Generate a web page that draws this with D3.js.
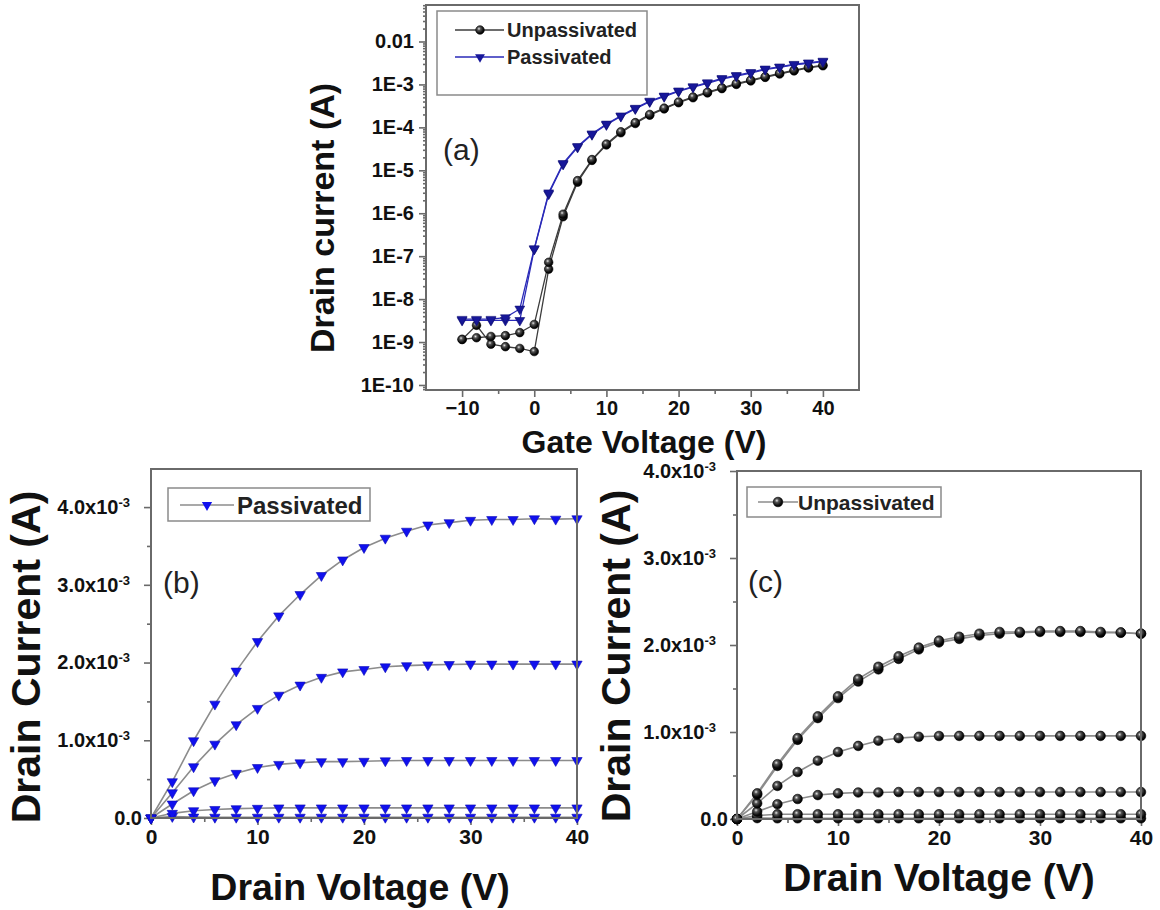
<!DOCTYPE html>
<html>
<head>
<meta charset="utf-8">
<script src="https://cdn.jsdelivr.net/npm/d3@7"></script>
<style>
  body { margin: 0; background: #fff; }
  svg { display: block; }
  text { font-family: "Liberation Sans", Arial, sans-serif; }
</style>
</head>
<body>
<svg id="fig" width="1160" height="910"></svg>
<script>
// ---------- (a) transfer curves, log scale ----------
const gateVoltage = [-10,-8,-6,-4,-2,0,2,4,6,8,10,12,14,16,18,20,22,24,26,28,30,32,34,36,38,40];
const unpassivatedFwd = [1.15e-9,1.26e-9,1.35e-9,1.41e-9,1.66e-9,2.57e-9,7.2e-8,9.5e-7,5.75e-6,1.78e-5,4.1e-5,7.9e-5,1.29e-4,2.0e-4,2.8e-4,3.9e-4,5.1e-4,6.6e-4,8.3e-4,1.05e-3,1.26e-3,1.51e-3,1.82e-3,2.14e-3,2.5e-3,2.8e-3];
const unpassivatedRev = [1.15e-9,2.45e-9,8.9e-10,7.8e-10,7.1e-10,6.0e-10,5.0e-8,8.3e-7,5.3e-6,1.7e-5,3.9e-5,7.5e-5,1.23e-4,1.92e-4,2.7e-4,3.75e-4,4.9e-4,6.35e-4,8.0e-4,1.0e-3,1.21e-3,1.46e-3,1.75e-3,2.07e-3,2.42e-3,2.72e-3];
const passivatedFwd = [3.4e-9,3.4e-9,3.4e-9,3.7e-9,5.9e-9,1.5e-7,3.0e-6,1.45e-5,3.6e-5,7.1e-5,1.2e-4,1.86e-4,2.8e-4,4.1e-4,5.4e-4,7.1e-4,8.9e-4,1.1e-3,1.38e-3,1.62e-3,1.9e-3,2.3e-3,2.57e-3,2.95e-3,3.2e-3,3.5e-3];
const passivatedRev = [3.2e-9,3.2e-9,3.2e-9,3.2e-9,3.2e-9,1.45e-7,2.8e-6,1.38e-5,3.45e-5,6.8e-5,1.15e-4,1.8e-4,2.7e-4,3.95e-4,5.2e-4,6.85e-4,8.6e-4,1.06e-3,1.33e-3,1.57e-3,1.84e-3,2.22e-3,2.49e-3,2.86e-3,3.1e-3,3.38e-3];
const gateTicks = [-10,0,10,20,30,40];
const gateMinorTicks = [-5,5,15,25,35];
const logTicks = [1e-10,1e-9,1e-8,1e-7,1e-6,1e-5,1e-4,1e-3,1e-2];
const logTickLabels = ["1E-10","1E-9","1E-8","1E-7","1E-6","1E-5","1E-4","1E-3","0.01"];

// ---------- (b),(c) output curves ----------
const drainVoltage = [0,2,4,6,8,10,12,14,16,18,20,22,24,26,28,30,32,34,36,38,40];
const passivatedCurve1 = [0,0.467e-3,0.994e-3,1.465e-3,1.89e-3,2.27e-3,2.60e-3,2.875e-3,3.12e-3,3.32e-3,3.48e-3,3.60e-3,3.69e-3,3.77e-3,3.80e-3,3.83e-3,3.84e-3,3.84e-3,3.85e-3,3.845e-3,3.85e-3];
const passivatedCurve2 = [0,0.325e-3,0.66e-3,0.95e-3,1.20e-3,1.41e-3,1.58e-3,1.71e-3,1.81e-3,1.88e-3,1.91e-3,1.945e-3,1.96e-3,1.97e-3,1.975e-3,1.98e-3,1.98e-3,1.98e-3,1.98e-3,1.98e-3,1.98e-3];
const passivatedCurve3 = [0,0.18e-3,0.35e-3,0.48e-3,0.575e-3,0.65e-3,0.69e-3,0.71e-3,0.725e-3,0.725e-3,0.73e-3,0.736e-3,0.74e-3,0.74e-3,0.74e-3,0.74e-3,0.74e-3,0.74e-3,0.74e-3,0.74e-3,0.74e-3];
const passivatedCurve4 = [0,0.06e-3,0.094e-3,0.11e-3,0.12e-3,0.125e-3,0.13e-3,0.13e-3,0.13e-3,0.13e-3,0.13e-3,0.13e-3,0.13e-3,0.13e-3,0.13e-3,0.13e-3,0.13e-3,0.13e-3,0.13e-3,0.13e-3,0.13e-3];
const passivatedCurve5 = [0,0.02e-3,0.012e-3,0.01e-3,0.01e-3,0.01e-3,0.01e-3,0.01e-3,0.01e-3,0.01e-3,0.01e-3,0.01e-3,0.01e-3,0.01e-3,0.01e-3,0.01e-3,0.01e-3,0.01e-3,0.01e-3,0.01e-3,0.01e-3];
const unpassivatedCurve1 = [0,0.295e-3,0.63e-3,0.93e-3,1.18e-3,1.41e-3,1.61e-3,1.75e-3,1.87e-3,1.97e-3,2.05e-3,2.095e-3,2.13e-3,2.15e-3,2.15e-3,2.16e-3,2.16e-3,2.16e-3,2.15e-3,2.145e-3,2.13e-3];
const unpassivatedCurve1b = [0,0.28e-3,0.61e-3,0.91e-3,1.16e-3,1.39e-3,1.58e-3,1.72e-3,1.84e-3,1.95e-3,2.03e-3,2.07e-3,2.11e-3,2.13e-3,2.14e-3,2.15e-3,2.15e-3,2.15e-3,2.14e-3,2.14e-3,2.13e-3];
const unpassivatedCurve2 = [0,0.18e-3,0.38e-3,0.54e-3,0.67e-3,0.77e-3,0.84e-3,0.90e-3,0.93e-3,0.945e-3,0.954e-3,0.955e-3,0.955e-3,0.955e-3,0.955e-3,0.955e-3,0.955e-3,0.955e-3,0.955e-3,0.955e-3,0.955e-3];
const unpassivatedCurve3 = [0,0.085e-3,0.17e-3,0.23e-3,0.275e-3,0.295e-3,0.305e-3,0.305e-3,0.31e-3,0.31e-3,0.31e-3,0.31e-3,0.31e-3,0.31e-3,0.31e-3,0.31e-3,0.31e-3,0.31e-3,0.31e-3,0.31e-3,0.31e-3];
const unpassivatedCurve4 = [0,0.04e-3,0.054e-3,0.055e-3,0.055e-3,0.055e-3,0.055e-3,0.055e-3,0.055e-3,0.055e-3,0.055e-3,0.055e-3,0.055e-3,0.055e-3,0.055e-3,0.055e-3,0.055e-3,0.055e-3,0.055e-3,0.055e-3,0.055e-3];
const unpassivatedCurve5 = [0,0.01e-3,0.008e-3,0.008e-3,0.008e-3,0.008e-3,0.008e-3,0.008e-3,0.008e-3,0.008e-3,0.008e-3,0.008e-3,0.008e-3,0.008e-3,0.008e-3,0.008e-3,0.008e-3,0.008e-3,0.008e-3,0.008e-3,0.008e-3];
const drainTicks = [0,10,20,30,40];
const drainMinorTicks = [5,15,25,35];
const currentTicks = [0,1e-3,2e-3,3e-3,4e-3];
const currentMinorTicks = [0.5e-3,1.5e-3,2.5e-3,3.5e-3];
const currentTickLabels = ["0.0","1.0x10","2.0x10","3.0x10","4.0x10"];

// ---------- drawing ----------
const svg = d3.select("#fig");
const AXIS = "#6a6a6a";

const defs = svg.append("defs");
const grad = defs.append("radialGradient").attr("id","sphere")
  .attr("cx","38%").attr("cy","35%").attr("r","65%");
grad.append("stop").attr("offset","0%").attr("stop-color","#e8e8e8");
grad.append("stop").attr("offset","30%").attr("stop-color","#555");
grad.append("stop").attr("offset","75%").attr("stop-color","#111");
grad.append("stop").attr("offset","100%").attr("stop-color","#000");

const zip = (xs, ys) => xs.map((v,i) => [v, ys[i]]);
const triPath = d3.symbol(d3.symbolTriangle);

function frame(g, x, y) {
  const [x0,x1] = x.range(), [y0,y1] = y.range();
  g.append("rect").attr("x",x0).attr("y",y1).attr("width",x1-x0).attr("height",y0-y1)
    .attr("fill","none").attr("stroke",AXIS).attr("stroke-width",2);
}

function styleAxis(sel, fontSize) {
  sel.select(".domain").remove();
  sel.selectAll(".tick line").attr("stroke",AXIS).attr("stroke-width",1.6);
  sel.selectAll(".tick text").attr("fill","#111").attr("font-weight","bold")
    .attr("font-size",fontSize+"px").attr("font-family","'Liberation Sans', Arial, sans-serif");
}

function xAxes(g, x, y, major, minor, fontSize) {
  const y0 = y.range()[0];
  const a = g.append("g").attr("transform",`translate(0,${y0})`)
    .call(d3.axisBottom(x).tickValues(major).tickSize(7).tickPadding(4));
  styleAxis(a, fontSize);
  const m = g.append("g").attr("transform",`translate(0,${y0})`)
    .call(d3.axisBottom(x).tickValues(minor).tickSize(4).tickFormat(""));
  styleAxis(m, fontSize);
}

function seriesLine(g, x, y, pts, color, w) {
  g.append("path").datum(pts)
    .attr("d", d3.line().x(d => x(d[0])).y(d => y(d[1])))
    .attr("fill","none").attr("stroke",color).attr("stroke-width",w);
}
function spheres(g, x, y, pts, r) {
  g.selectAll(null).data(pts).join("circle")
    .attr("cx", d => x(d[0])).attr("cy", d => y(d[1])).attr("r", r)
    .attr("fill","url(#sphere)").attr("stroke","#000").attr("stroke-width",0.6);
}
function triangles(g, x, y, pts, size, color) {
  g.selectAll(null).data(pts).join("path")
    .attr("d", triPath.size(size)())
    .attr("transform", d => `translate(${x(d[0])},${y(d[1])}) rotate(180)`)
    .attr("fill", color).attr("stroke", d3.color(color).darker(0.8)).attr("stroke-width",0.6);
}

function title(g, txt, x, y, size, rotate) {
  const t = g.append("text").text(txt).attr("font-weight","bold").attr("font-size",size+"px")
    .attr("fill","#111").attr("text-anchor","middle");
  if (rotate) t.attr("transform",`translate(${x},${y}) rotate(-90)`);
  else t.attr("x",x).attr("y",y);
}
function panelTag(g, txt, x, y) {
  g.append("text").text(txt).attr("x",x).attr("y",y)
    .attr("font-family","Lato, 'Open Sans', sans-serif").attr("font-size","30px").attr("fill","#222");
}

// ===== panel (a) =====
{
  const g = svg.append("g");
  const x = d3.scaleLinear().domain([-15,45]).range([426,859]);
  const y = d3.scaleLog().domain([Math.pow(10,-10.117), Math.pow(10,-1.15)]).range([390,5]);

  // minor log ticks
  const logMinor = [];
  for (let e = -11; e <= -2; e++) for (let k = 2; k <= 9; k++) {
    const v = k * Math.pow(10, e);
    if (v > y.domain()[0] && v < y.domain()[1]) logMinor.push(v);
  }
  const ym = g.append("g").attr("transform","translate(426,0)")
    .call(d3.axisLeft(y).tickValues(logMinor).tickSize(3).tickFormat(""));
  styleAxis(ym, 20);
  const ya = g.append("g").attr("transform","translate(426,0)")
    .call(d3.axisLeft(y).tickValues(logTicks).tickSize(7).tickPadding(5)
      .tickFormat((d,i) => logTickLabels[i]));
  styleAxis(ya, 20);
  xAxes(g, x, y, gateTicks, gateMinorTicks, 20);

  const uF = zip(gateVoltage, unpassivatedFwd), uR = zip(gateVoltage, unpassivatedRev);
  const pF = zip(gateVoltage, passivatedFwd), pR = zip(gateVoltage, passivatedRev);
  seriesLine(g, x, y, uF, "#3c3c3c", 1.3);
  seriesLine(g, x, y, uR, "#3c3c3c", 1.3);
  seriesLine(g, x, y, pF, "#2a2ab8", 1.3);
  seriesLine(g, x, y, pR, "#2a2ab8", 1.3);
  spheres(g, x, y, uR, 4.3);
  spheres(g, x, y, uF, 4.3);
  triangles(g, x, y, pR, 42, "#17179a");
  triangles(g, x, y, pF, 42, "#17179a");
  frame(g, x, y);

  // legend
  const lg = g.append("g");
  lg.append("rect").attr("x",437).attr("y",11).attr("width",210).attr("height",84)
    .attr("fill","#fff").attr("stroke","#8a8a8a").attr("stroke-width",1.5);
  lg.append("line").attr("x1",455).attr("x2",504).attr("y1",30).attr("y2",30).attr("stroke","#3c3c3c").attr("stroke-width",1.3);
  lg.append("circle").attr("cx",480).attr("cy",30).attr("r",4.3).attr("fill","url(#sphere)").attr("stroke","#000").attr("stroke-width",0.6);
  lg.append("text").text("Unpassivated").attr("x",507).attr("y",37).attr("font-weight","bold").attr("font-size","20px").attr("fill","#222");
  lg.append("line").attr("x1",455).attr("x2",504).attr("y1",57).attr("y2",57).attr("stroke","#2a2ab8").attr("stroke-width",1.3);
  lg.append("path").attr("d",triPath.size(42)()).attr("transform","translate(480,57) rotate(180)").attr("fill","#17179a");
  lg.append("text").text("Passivated").attr("x",507).attr("y",64).attr("font-weight","bold").attr("font-size","20px").attr("fill","#222");

  panelTag(g, "(a)", 443, 160);
  title(g, "Drain current (A)", 334, 218, 34, true);
  title(g, "Gate Voltage (V)", 644, 453, 32, false);
}

// current axis with x10^-3 labels
function currentAxis(g, x, y, fontSize) {
  const x0 = x.range()[0];
  const m = g.append("g").attr("transform",`translate(${x0},0)`)
    .call(d3.axisLeft(y).tickValues(currentMinorTicks).tickSize(4).tickFormat(""));
  styleAxis(m, fontSize);
  const a = g.append("g").attr("transform",`translate(${x0},0)`)
    .call(d3.axisLeft(y).tickValues(currentTicks).tickSize(7).tickPadding(14));
  styleAxis(a, fontSize);
  a.selectAll(".tick text").each(function(d,i) {
    const t = d3.select(this).text(null).attr("text-anchor","end");
    if (i === 0) {
      t.attr("dx","12px");
      t.append("tspan").text(currentTickLabels[i]);
    } else {
      t.append("tspan").text(currentTickLabels[i]);
      t.append("tspan").attr("dy","-0.55em").attr("font-size","13px").text("-3");
    }
  });
}

// ===== panel (b) =====
{
  const g = svg.append("g");
  const x = d3.scaleLinear().domain([0,40]).range([151,577]);
  const y = d3.scaleLinear().domain([0,4.49e-3]).range([818,469]);
  currentAxis(g, x, y, 20);
  xAxes(g, x, y, drainTicks, drainMinorTicks, 21);
  const curves = [passivatedCurve5, passivatedCurve4, passivatedCurve3, passivatedCurve2, passivatedCurve1];
  curves.forEach(c => seriesLine(g, x, y, zip(drainVoltage, c), "#8c8c8c", 1.6));
  curves.forEach(c => triangles(g, x, y, zip(drainVoltage, c), 46, "#1010ee"));
  frame(g, x, y);

  g.append("rect").attr("x",168).attr("y",488).attr("width",202).attr("height",33)
    .attr("fill","#fff").attr("stroke","#8a8a8a").attr("stroke-width",1.5);
  g.append("line").attr("x1",180).attr("x2",234).attr("y1",505).attr("y2",505).attr("stroke","#8c8c8c").attr("stroke-width",1.6);
  g.append("path").attr("d",triPath.size(46)()).attr("transform","translate(207,505) rotate(180)").attr("fill","#1010ee");
  g.append("text").text("Passivated").attr("x",237).attr("y",514).attr("font-weight","bold").attr("font-size","24px").attr("fill","#222");

  panelTag(g, "(b)", 163, 593);
  title(g, "Drain Current (A)", 40, 657, 41, true);
  title(g, "Drain Voltage (V)", 360, 900, 37.5, false);
}

// ===== panel (c) =====
{
  const g = svg.append("g");
  const x = d3.scaleLinear().domain([0,40]).range([737,1141]);
  const y = d3.scaleLinear().domain([0,4e-3]).range([819,471]);
  currentAxis(g, x, y, 20);
  xAxes(g, x, y, drainTicks, drainMinorTicks, 21);
  const curves = [unpassivatedCurve5, unpassivatedCurve4, unpassivatedCurve3, unpassivatedCurve2, unpassivatedCurve1b, unpassivatedCurve1];
  curves.forEach(c => seriesLine(g, x, y, zip(drainVoltage, c), "#8c8c8c", 1.6));
  curves.forEach(c => spheres(g, x, y, zip(drainVoltage, c), 4.8));
  frame(g, x, y);

  g.append("rect").attr("x",747).attr("y",487).attr("width",194).attr("height",30)
    .attr("fill","#fff").attr("stroke","#8a8a8a").attr("stroke-width",1.5);
  g.append("line").attr("x1",758).attr("x2",798).attr("y1",502).attr("y2",502).attr("stroke","#8c8c8c").attr("stroke-width",1.6);
  g.append("circle").attr("cx",778).attr("cy",502).attr("r",4.8).attr("fill","url(#sphere)").attr("stroke","#000").attr("stroke-width",0.6);
  g.append("text").text("Unpassivated").attr("x",798).attr("y",510).attr("font-weight","bold").attr("font-size","21px").attr("fill","#222");

  panelTag(g, "(c)", 748, 592);
  title(g, "Drain Current (A)", 630, 656, 41, true);
  title(g, "Drain Voltage (V)", 939, 891, 39, false);
}
</script>
</body>
</html>
